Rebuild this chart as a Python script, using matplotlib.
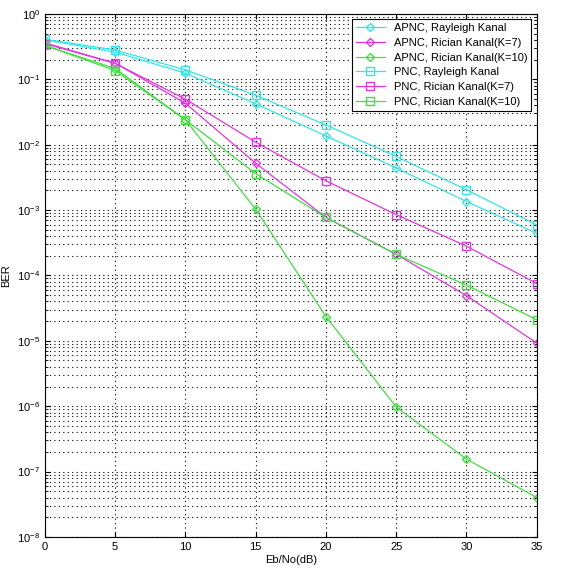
import numpy as np
import matplotlib
matplotlib.use('Agg')
import matplotlib.pyplot as plt
from matplotlib.ticker import LogLocator, NullFormatter

plt.rcParams['font.family'] = ['Liberation Sans', 'DejaVu Sans']
plt.rcParams['mathtext.fontset'] = 'custom'
plt.rcParams['mathtext.rm'] = 'Liberation Sans'

snr = [0, 5, 10, 15, 20, 25, 30, 35]

apnc_rayleigh = [0.40, 0.26, 0.124, 0.042, 0.0136, 0.0044, 0.00135, 0.00044]
apnc_k7 = [0.36, 0.176, 0.043, 0.0052, 0.00077, 0.00021, 4.9e-5, 9.2e-6]
apnc_k10 = [0.33, 0.146, 0.024, 0.00103, 2.35e-5, 9.7e-7, 1.55e-7, 4.0e-8]
pnc_rayleigh = [0.41, 0.28, 0.139, 0.057, 0.020, 0.0066, 0.00204, 0.00059]
pnc_k7 = [0.35, 0.175, 0.0496, 0.0109, 0.0028, 0.00085, 0.00028, 7.5e-5]
pnc_k10 = [0.33, 0.136, 0.024, 0.0036, 0.00077, 0.00021, 7.1e-5, 2.1e-5]

labels = ['APNC, Rayleigh Kanal', 'APNC, Rician Kanal(K=7)', 'APNC, Rician Kanal(K=10)',
          'PNC, Rayleigh Kanal', 'PNC, Rician Kanal(K=7)', 'PNC, Rician Kanal(K=10)']

cyan = '#33e6e6'
magenta = '#e633e6'
green = '#40e040'

fig = plt.figure(figsize=(5.68, 5.78), dpi=100)
ax = fig.add_axes([0.079, 0.071, 0.866, 0.905])

series = [(apnc_rayleigh, cyan, 'D', 4.5), (apnc_k7, magenta, 'D', 4.5), (apnc_k10, green, 'D', 4.5),
          (pnc_rayleigh, cyan, 's', 6), (pnc_k7, magenta, 's', 6), (pnc_k10, green, 's', 6)]
for (vals, col, mk, ms), lab in zip(series, labels):
    ax.semilogy(snr, vals, color=col, marker=mk, markerfacecolor='none',
                markeredgecolor=col, markersize=ms, linewidth=0.9, label=lab)

ax.set_xlim(0, 35)
ax.set_ylim(1e-8, 1)
ax.set_xticks(snr)
ax.yaxis.set_major_locator(LogLocator(base=10, numticks=20))
ax.yaxis.set_minor_locator(LogLocator(base=10, subs=np.arange(2, 10), numticks=20))
ax.yaxis.set_minor_formatter(NullFormatter())
ax.xaxis.get_offset_text().set_visible(False)
ax.yaxis.get_offset_text().set_visible(False)

ax.grid(True, which='major', axis='both', color='black', linestyle=(0, (1, 3)), linewidth=0.8)
ax.grid(True, which='minor', axis='y', color='black', linestyle=(0, (1, 3)), linewidth=0.8)
ax.tick_params(direction='in', which='both', labelsize=8, top=True, right=True)
ax.tick_params(which='minor', length=2)

ax.set_xlabel('Eb/No(dB)', fontsize=8, labelpad=2)
ax.set_ylabel('BER', fontsize=8, labelpad=4)

leg = ax.legend(loc='upper right', fontsize=8, fancybox=False, framealpha=1,
                edgecolor='black', borderaxespad=0.5, handlelength=2.6,
                labelspacing=0.42, borderpad=0.35)
leg.get_frame().set_linewidth(0.8)

fig.savefig('out.png', dpi=100)
